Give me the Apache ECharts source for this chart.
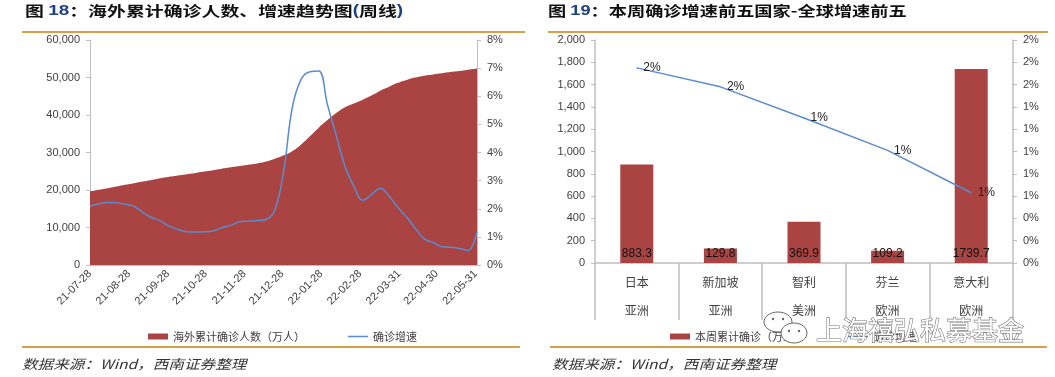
<!DOCTYPE html>
<html>
<head>
<meta charset="utf-8">
<title>海外累计确诊人数、本周确诊增速前五</title>
<script src="https://cdn.jsdelivr.net/npm/echarts@6/dist/echarts.min.js"></script>
<style>
html, body { margin:0; padding:0; background:#fff; }
#main { width:1055px; height:377px; }
</style>
</head>
<body>
<div id="main"></div>
<script>
// --- 图18：海外累计确诊（万人）、确诊增速（%），周线，自 2021-07-28 起 ---
const cumCases = [
  19600, 20040, 20480, 20920, 21370, 21800, 22260, 22700, 23160, 23530,
  23870, 24220, 24560, 24940, 25300, 25680, 26040, 26390, 26730, 27080,
  27570, 28350, 29220, 30330, 32120, 34310, 36620, 38640, 40520, 42060,
  43080, 44100, 45190, 46470, 47560, 48580, 49360, 49980, 50460, 50800,
  51120, 51450, 51710, 52070, 52400
]
const growthRate = [
  2.10, 2.18, 2.22, 2.21, 2.16, 2.09, 1.87, 1.69, 1.57, 1.38,
  1.26, 1.18, 1.17, 1.18, 1.21, 1.33, 1.41, 1.54, 1.56, 1.58,
  1.62, 1.95, 3.30, 5.60, 6.60, 6.87, 6.90, 5.70, 4.60, 3.50,
  2.80, 2.30, 2.50, 2.73, 2.45, 2.05, 1.70, 1.30, 0.93, 0.80,
  0.65, 0.63, 0.59, 0.52, 1.18
]
const tickDates = [
  '2021-07-28', '2021-08-28', '2021-09-28', '2021-10-28', '2021-11-28', '2021-12-28',
  '2022-01-28', '2022-02-28', '2022-03-31', '2022-04-30', '2022-05-31'
]

// --- 图19：本周确诊增速前五国家 ---
const countries  = ['日本', '新加坡', '智利', '芬兰', '意大利']
const continents = ['亚洲', '亚洲', '美洲', '欧洲', '欧洲']
const weekCases  = [883.3, 129.8, 369.9, 109.2, 1739.7]
const weekGrowth = [1.75, 1.58, 1.30, 1.01, 0.63]

// --- 日期工具：x 轴用“距 2021-07-28 的天数” ---
const DAY = 86400000
const START = Date.UTC(2021, 6, 28)
const toDay = s => { const [y, m, d] = s.split('-').map(Number); return Math.round((Date.UTC(y, m - 1, d) - START) / DAY) }
const pad = n => String(n).padStart(2, '0')
const fmtDay = v => { const d = new Date(START + Math.round(v) * DAY); return `${String(d.getUTCFullYear()).slice(2)}-${pad(d.getUTCMonth() + 1)}-${pad(d.getUTCDate())}` }
const weekDays = cumCases.map((_, i) => 7 * i)

const RED  = '#a94442'
const BLUE = '#5b8bd0'
const GOLD = '#d6a04a'
const AXIS = '#bfbfbf'
const TXT  = '#404040'
const NUM_FONT = 'Liberation Sans, Arial, sans-serif'
const CJK_FONT = 'Noto Sans CJK SC, sans-serif'
const LINE_ICON = 'path://M0,0L20,0L20,1.5L0,1.5Z'

const axisLabelBase = { color: TXT, fontSize: 11, fontFamily: NUM_FONT }

const chart = echarts.init(document.getElementById('main'))
chart.setOption({
  animation: false,
  backgroundColor: '#fff',
  grid: [
    { left: 90, top: 40, width: 387, height: 225 },
    { left: 595, top: 40, width: 418, height: 223 }
  ],
  xAxis: [
    {
      type: 'value', gridIndex: 0,
      min: 0, max: weekDays[weekDays.length - 1],
      axisLine: { show: true, lineStyle: { color: AXIS } },
      axisTick: { show: false },
      splitLine: { show: false },
      axisLabel: {
        ...axisLabelBase, rotate: 45, margin: 7,
        customValues: tickDates.map(toDay),
        formatter: v => fmtDay(v)
      }
    },
    {
      type: 'category', gridIndex: 1, data: countries,
      axisLine: { show: true, lineStyle: { color: AXIS, width: 1.5 } },
      axisTick: { show: true, interval: 0, length: 57, lineStyle: { color: AXIS, width: 1.5 } },
      axisLabel: {
        interval: 0, margin: 5, color: TXT, fontSize: 12, fontFamily: CJK_FONT, lineHeight: 28,
        formatter: (v, i) => v + '\n' + continents[i]
      }
    }
  ],
  yAxis: [
    {
      type: 'value', gridIndex: 0, min: 0, max: 60000, interval: 10000,
      axisLine: { show: true, lineStyle: { color: AXIS } },
      axisTick: { show: true, length: 4, lineStyle: { color: AXIS } },
      splitLine: { show: false },
      axisLabel: { ...axisLabelBase, margin: 10, formatter: v => v.toLocaleString('en-US') }
    },
    {
      type: 'value', gridIndex: 0, position: 'right', min: 0, max: 8, interval: 1,
      axisLine: { show: true, lineStyle: { color: AXIS } },
      axisTick: { show: true, length: 4, lineStyle: { color: AXIS } },
      splitLine: { show: false },
      axisLabel: { ...axisLabelBase, margin: 10, formatter: v => v + '%' }
    },
    {
      type: 'value', gridIndex: 1, min: 0, max: 2000, interval: 200,
      axisLine: { show: true, lineStyle: { color: AXIS, width: 1.5 } },
      axisTick: { show: true, length: 4, lineStyle: { color: AXIS } },
      splitLine: { show: false },
      axisLabel: { ...axisLabelBase, margin: 10, formatter: v => v.toLocaleString('en-US') }
    },
    {
      type: 'value', gridIndex: 1, position: 'right', min: 0, max: 2, interval: 0.2,
      axisLine: { show: true, lineStyle: { color: AXIS, width: 1.5 } },
      axisTick: { show: true, length: 4, lineStyle: { color: AXIS } },
      splitLine: { show: false },
      axisLabel: { ...axisLabelBase, margin: 10, formatter: v => Math.round(v) + '%' }
    }
  ],
  legend: [
    {
      left: 143, top: 326, itemWidth: 20, itemHeight: 6, itemGap: 43,
      textStyle: { color: TXT, fontSize: 11, fontFamily: CJK_FONT },
      data: [{ name: '海外累计确诊人数（万人）', icon: 'rect' }, { name: '确诊增速', icon: LINE_ICON }]
    },
    {
      left: 665, top: 326, itemWidth: 20, itemHeight: 6, itemGap: 43,
      textStyle: { color: TXT, fontSize: 11, fontFamily: CJK_FONT },
      data: [{ name: '本周累计确诊（万人）', icon: 'rect' }, { name: '确诊增速', icon: LINE_ICON }]
    }
  ],
  series: [
    {
      name: '海外累计确诊人数（万人）', type: 'line', xAxisIndex: 0, yAxisIndex: 0,
      data: weekDays.map((t, i) => [t, cumCases[i]]),
      symbol: 'none', smooth: true,
      lineStyle: { width: 0 }, itemStyle: { color: RED },
      areaStyle: { color: RED, opacity: 1 }
    },
    {
      name: '确诊增速', type: 'line', xAxisIndex: 0, yAxisIndex: 1,
      data: weekDays.map((t, i) => [t, growthRate[i]]),
      symbol: 'none', smooth: 0.4, z: 3,
      lineStyle: { width: 1.5, color: BLUE }, itemStyle: { color: BLUE }
    },
    {
      name: '本周累计确诊（万人）', type: 'bar', xAxisIndex: 1, yAxisIndex: 2,
      data: weekCases, barWidth: 33, itemStyle: { color: RED },
      label: {
        show: true, position: 'insideBottom', distance: 3,
        color: '#111', fontSize: 12, fontFamily: NUM_FONT,
        formatter: p => p.value.toFixed(1)
      }
    },
    {
      name: '确诊增速', type: 'line', xAxisIndex: 1, yAxisIndex: 3,
      data: weekGrowth, symbol: 'circle', symbolSize: 1, showSymbol: true, z: 3,
      lineStyle: { width: 1.5, color: BLUE }, itemStyle: { color: BLUE },
      label: {
        show: true, position: 'right', distance: 6,
        color: '#222', fontSize: 12, fontFamily: NUM_FONT,
        formatter: p => Math.round(p.value) + '%'
      }
    }
  ],
  graphic: [
    // 标题
    {
      type: 'text', x: 25, y: 11, scaleX: 1.35, z: 10,
      style: {
        text: '{a|图 }{b|18}{a|：海外累计确诊人数、增速趋势图}{b|(}{a|周线}{b|)}',
        verticalAlign: 'middle',
        rich: {
          a: { font: `bold 14px ${CJK_FONT}`, fill: '#111' },
          b: { font: `bold 14px ${NUM_FONT}`, fill: '#1f3f7f' }
        }
      }
    },
    {
      type: 'text', x: 548, y: 11, scaleX: 1.3, z: 10,
      style: {
        text: '{a|图 }{b|19}{a|：本周确诊增速前五国家-全球增速前五}',
        verticalAlign: 'middle',
        rich: {
          a: { font: `bold 14px ${CJK_FONT}`, fill: '#111' },
          b: { font: `bold 14px ${NUM_FONT}`, fill: '#1f3f7f' }
        }
      }
    },
    // 金色分隔线
    { type: 'rect', shape: { x: 22, y: 31, width: 503, height: 2 }, style: { fill: GOLD } },
    { type: 'rect', shape: { x: 548, y: 31, width: 500, height: 2 }, style: { fill: GOLD } },
    { type: 'rect', shape: { x: 22, y: 346, width: 498, height: 2 }, style: { fill: GOLD } },
    { type: 'rect', shape: { x: 550, y: 346, width: 497, height: 2 }, style: { fill: GOLD } },
    // 数据来源
    {
      type: 'text', x: 22, y: 364, scaleX: 1.2,
      style: { text: '数据来源：Wind，西南证券整理', font: `italic 13px ${CJK_FONT}`, fill: '#333', verticalAlign: 'middle' }
    },
    {
      type: 'text', x: 552, y: 364, scaleX: 1.2,
      style: { text: '数据来源：Wind，西南证券整理', font: `italic 13px ${CJK_FONT}`, fill: '#333', verticalAlign: 'middle' }
    },
    // 水印
    { type: 'ellipse', z: 20, shape: { cx: 778, cy: 322, rx: 14, ry: 10 }, style: { fill: '#fff', stroke: '#666', lineWidth: 1 } },
    { type: 'ellipse', z: 21, shape: { cx: 794, cy: 333, rx: 13, ry: 10 }, style: { fill: '#fff', stroke: '#666', lineWidth: 1 } },
    { type: 'circle', z: 22, shape: { cx: 773, cy: 319, r: 1.2 }, style: { fill: '#666' } },
    { type: 'circle', z: 22, shape: { cx: 783, cy: 319, r: 1.2 }, style: { fill: '#666' } },
    { type: 'circle', z: 22, shape: { cx: 789, cy: 331, r: 1.2 }, style: { fill: '#666' } },
    { type: 'circle', z: 22, shape: { cx: 799, cy: 331, r: 1.2 }, style: { fill: '#666' } },
    {
      type: 'text', x: 816, y: 330, z: 22,
      style: { text: '上海禧弘私募基金', font: `26px ${CJK_FONT}`, fill: '#fff', stroke: '#777', lineWidth: 1.2, verticalAlign: 'middle' }
    }
  ]
})
</script>
</body>
</html>
